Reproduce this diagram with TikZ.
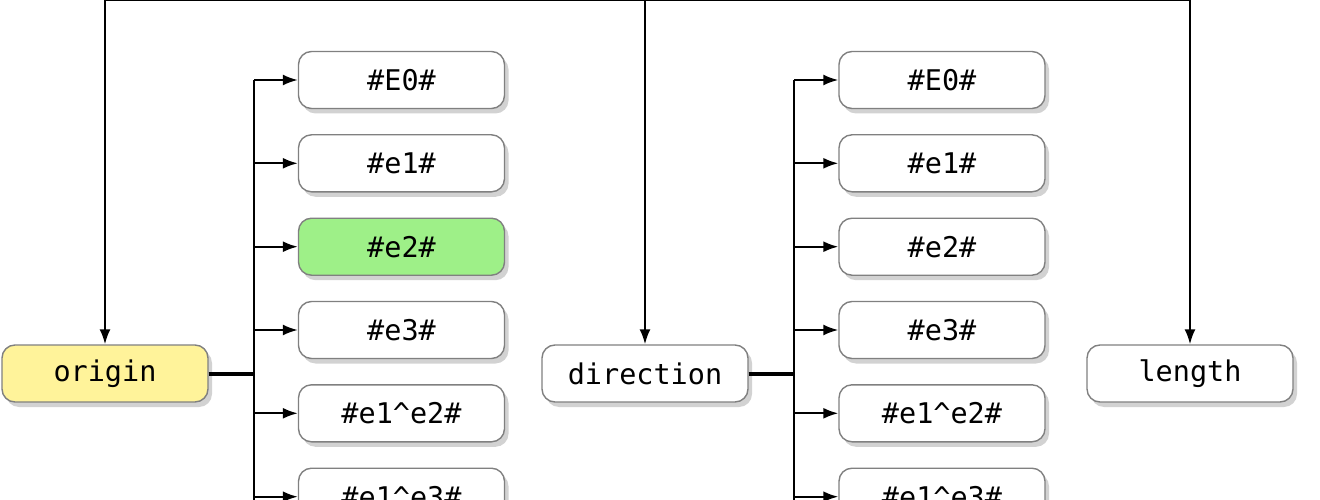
\documentclass[tikz,border=0pt]{standalone}
\usepackage{fontspec}
\setmonofont{DejaVu Sans Mono}
\usepackage{tikz}
\usetikzlibrary{calc,shadows,arrows.meta}
\tikzset{
	blade/.style={draw=black!50, line width=1.4pt, rounded corners=13pt, fill=white,
		minimum width=206pt, minimum height=57pt, inner sep=0pt,
		font=\ttfamily\fontsize{28.5}{34}\selectfont,
		drop shadow={shadow xshift=4pt, shadow yshift=-5pt, opacity=0.25, fill=black!70}},
	argbox/.style={blade},
	feed/.style={line width=2pt, -{Latex[length=15pt,width=11pt]}},
	stub/.style={line width=4pt},
	bus/.style={line width=2.6pt}
}
\begin{document}
\begin{tikzpicture}[x=1pt, y=-1pt]
			%%%%% FRAME %%%%%
			\useasboundingbox (0, 0) rectangle (1320, 500);
			
			%%%%% ARGUMENTS %%%%%
			\node[argbox, fill={rgb,255:red,255;green,243;blue,154}] (origin) at (105, 373.5) {origin};
			\node[argbox] (direction) at (645, 373.5) {direction};
			\node[argbox] (length) at (1190, 373.5) {length};
			
			\coordinate (root) at (645, 0);
			\draw[feed] (root) -| (origin);
			\draw[feed] (root) -- (direction);
			\draw[feed] (root) -| (length);
			
			%%%%% ORIGIN BLADES %%%%%
			\node[blade] (oE0) at (401.5, 80) {\#E0\#};
			\node[blade] (oe1) at (401.5, 163.3) {\#e1\#};
			\node[blade, fill={rgb,255:red,158;green,240;blue,136}] (oe2) at (401.5, 246.7) {\#e2\#};
			\node[blade] (oe3) at (401.5, 330) {\#e3\#};
			\node[blade] (oe12) at (401.5, 413.3) {\#e1\textasciicircum e2\#};
			\node[blade] (oe13) at (401.5, 496.7) {\#e1\textasciicircum e3\#};
			
			\coordinate (obus) at (254, 373.5);
			\draw[stub] (origin) -- (obus);
			\draw[bus] (obus |- oE0) -- ($(obus |- oe13)+(0, 20)$);
			\draw[feed] (obus |- oE0) -- (oE0);
			\draw[feed] (obus |- oe1) -- (oe1);
			\draw[feed] (obus |- oe2) -- (oe2);
			\draw[feed] (obus |- oe3) -- (oe3);
			\draw[feed] (obus |- oe12) -- (oe12);
			\draw[feed] (obus |- oe13) -- (oe13);
			
			%%%%% DIRECTION BLADES %%%%%
			\node[blade] (dE0) at (942, 80) {\#E0\#};
			\node[blade] (de1) at (942, 163.3) {\#e1\#};
			\node[blade] (de2) at (942, 246.7) {\#e2\#};
			\node[blade] (de3) at (942, 330) {\#e3\#};
			\node[blade] (de12) at (942, 413.3) {\#e1\textasciicircum e2\#};
			\node[blade] (de13) at (942, 496.7) {\#e1\textasciicircum e3\#};
			
			\coordinate (dbus) at (794, 373.5);
			\draw[stub] (direction) -- (dbus);
			\draw[bus] (dbus |- dE0) -- ($(dbus |- de13)+(0, 20)$);
			\draw[feed] (dbus |- dE0) -- (dE0);
			\draw[feed] (dbus |- de1) -- (de1);
			\draw[feed] (dbus |- de2) -- (de2);
			\draw[feed] (dbus |- de3) -- (de3);
			\draw[feed] (dbus |- de12) -- (de12);
			\draw[feed] (dbus |- de13) -- (de13);
			
			%%%%% END %%%%%
		\end{tikzpicture}
\end{document}
